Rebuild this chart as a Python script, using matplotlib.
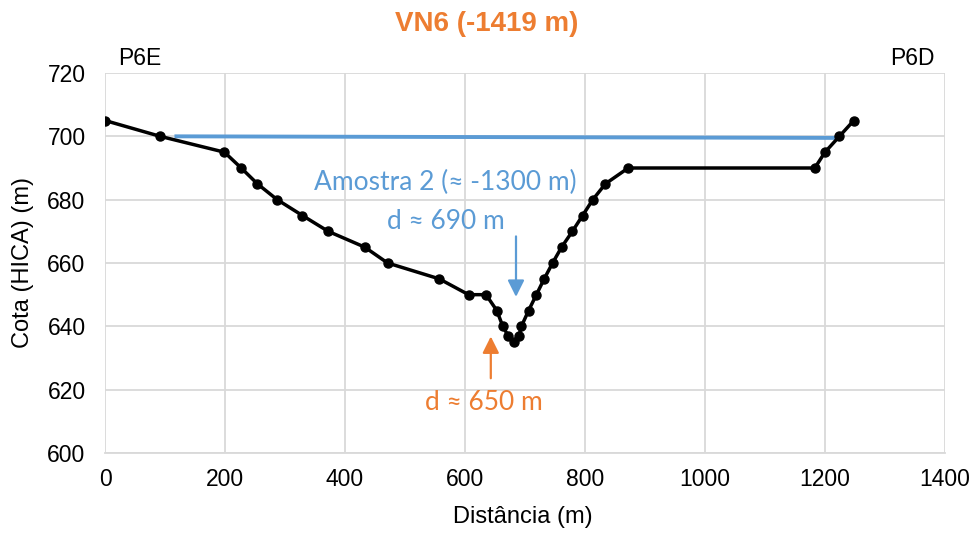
import matplotlib
matplotlib.use("Agg")
import matplotlib.pyplot as plt

# perfil do furo (distância, cota)
dist = [0, 92, 199, 227, 254, 287, 329, 372, 433, 471, 557, 606, 635, 653, 663,
        672, 682, 690, 694, 706, 719, 732, 746, 761, 779, 796, 813, 834, 872,
        1183, 1200, 1224, 1248]
cota = [705, 700, 695, 690, 685, 680, 675, 670, 665, 660, 655, 650, 650, 645, 640,
        637, 635, 637, 640, 645, 650, 655, 660, 665, 670, 675, 680, 685, 690,
        690, 695, 700, 705]

# nível de água (linha azul)
agua_x = [119, 1224]
agua_y = [700, 699.5]

blue = "#5B9BD5"
orange = "#ED7D31"
grid_c = "#D9D9D9"
anno_font = ['Lato', 'DejaVu Sans']

plt.rcParams['font.family'] = ['Liberation Sans', 'DejaVu Sans']

fig = plt.figure(figsize=(9.73, 5.34), dpi=100)
ax = fig.add_axes([105/973, 1-453/534, (945-105)/973, (453-73)/534])

ax.plot(agua_x, agua_y, color=blue, lw=2.8, zorder=2)
ax.plot(dist, cota, color="black", lw=2.5, marker="o", ms=6.5, zorder=3)

ax.set_xlim(0, 1400)
ax.set_ylim(600, 720)
ax.set_xticks(range(0, 1401, 200))
ax.set_yticks(range(600, 721, 20))
ax.grid(True, color=grid_c, lw=1.3)
ax.set_axisbelow(True)
for s in ["top", "right", "left"]:
    ax.spines[s].set_visible(False)
ax.spines["bottom"].set_color(grid_c)
ax.spines["bottom"].set_linewidth(1.3)
ax.tick_params(length=0, labelsize=16.5)
ax.tick_params(axis="x", pad=11)
ax.tick_params(axis="y", pad=14)

ax.set_xlabel("Distância (m)", fontsize=17)
ax.xaxis.label.set_verticalalignment("center")
ax.xaxis.set_label_coords(523/973, 1-517/534, transform=fig.transFigure)
ax.set_ylabel("Cota (HICA) (m)", fontsize=17)
ax.yaxis.label.set_verticalalignment("center")
ax.yaxis.set_label_coords(23/973, 1-263/534, transform=fig.transFigure)

fig.text(0.5, 1-24/534, "VN6 (-1419 m)", ha="center", va="center", fontsize=20,
         fontweight="bold", color=orange)
ax.text(58, 724.5, "P6E", ha="center", va="center", fontsize=16.5, clip_on=False)
ax.text(1345, 724.5, "P6D", ha="center", va="center", fontsize=16.5, clip_on=False)

# anotações
ax.annotate("", xy=(685, 649.3), xytext=(685, 668.4),
            arrowprops=dict(arrowstyle="-|>,head_width=0.5,head_length=1.0",
                            color=blue, lw=1.6, shrinkA=0, shrinkB=0))
ax.annotate("", xy=(643, 636.8), xytext=(643, 623.6),
            arrowprops=dict(arrowstyle="-|>,head_width=0.5,head_length=1.0",
                            color=orange, lw=1.6, shrinkA=0, shrinkB=0))
ax.text(568, 685.4, "Amostra 2 (≈ -1300 m)", ha="center", va="center",
        fontsize=19, color=blue, family=anno_font)
ax.text(568, 673, "d ≈ 690 m", ha="center", va="center",
        fontsize=19, color=blue, family=anno_font)
ax.text(632, 615.9, "d ≈ 650 m", ha="center", va="center",
        fontsize=19, color=orange, family=anno_font)

fig.savefig("out.png", dpi=100)
